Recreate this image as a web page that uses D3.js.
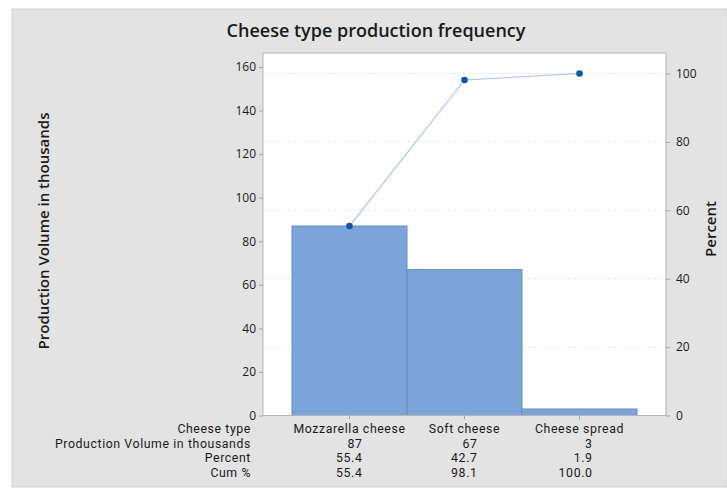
<!DOCTYPE html>
<html>
<head>
<meta charset="utf-8">
<script src="https://cdn.jsdelivr.net/npm/d3@7"></script>
<style>
  html, body { margin: 0; padding: 0; background: #ffffff; }
  svg { display: block; }
  text { font-family: "Open Sans", "Noto Sans", sans-serif; fill: #1a1a1a; }
</style>
</head>
<body>
<svg id="chart" width="727" height="489"></svg>
<script>
// ---- data ----
const categories = ["Mozzarella cheese", "Soft cheese", "Cheese spread"];
const volumes = [87, 67, 3];
const percents = [55.4, 42.7, 1.9];
const cumPercents = [55.4, 98.1, 100.0];
const leftTicks = [0, 20, 40, 60, 80, 100, 120, 140, 160];
const rightTicks = [0, 20, 40, 60, 80, 100];
const rowLabels = ["Cheese type", "Production Volume in thousands", "Percent", "Cum %"];
const title = "Cheese type production frequency";
const leftLabel = "Production Volume in thousands";
const rightLabel = "Percent";

// ---- layout ----
const W = 727, H = 489;
const plot = { left: 263, right: 666, top: 53, bottom: 415.5 };
const svg = d3.select("#chart");

// grey panel
svg.append("rect").attr("x", 12).attr("y", 9).attr("width", W - 12).attr("height", 478)
  .attr("fill", "#e3e3e3").attr("stroke", "#d2d2d2").attr("stroke-width", 1);

const total = d3.sum(volumes);
const leftMax = total * 1.06;

const x = d3.scaleBand().domain(categories).range([plot.left, plot.right])
  .paddingInner(0).paddingOuter(0.252);
const yL = d3.scaleLinear().domain([0, leftMax]).range([plot.bottom, plot.top]);
const yR = d3.scaleLinear().domain([0, leftMax / total * 100]).range([plot.bottom, plot.top]);

// plot area
svg.append("rect").attr("x", plot.left).attr("y", plot.top)
  .attr("width", plot.right - plot.left).attr("height", plot.bottom - plot.top)
  .attr("fill", "#ffffff");

// gridlines (right-axis)
svg.append("g").selectAll("line").data(rightTicks.filter(d => d > 0)).join("line")
  .attr("x1", plot.left).attr("x2", plot.right)
  .attr("y1", d => yR(d)).attr("y2", d => yR(d))
  .attr("stroke", "#e6e6e6").attr("stroke-width", 1).attr("stroke-dasharray", "3,2");

// bars
svg.append("g").selectAll("rect").data(categories).join("rect")
  .attr("x", d => x(d)).attr("width", x.bandwidth())
  .attr("y", (d, i) => yL(volumes[i]))
  .attr("height", (d, i) => plot.bottom - yL(volumes[i]))
  .attr("fill", "#7ba5d8").attr("stroke", "#6a8dbb").attr("stroke-width", 1);

// cumulative line
const cx = d => x(d) + x.bandwidth() / 2;
const line = d3.line().x((d, i) => cx(categories[i])).y(d => yR(d));
svg.append("path").datum(cumPercents).attr("d", line)
  .attr("fill", "none").attr("stroke", "#a3c2e8").attr("stroke-width", 1.1);
svg.append("g").selectAll("circle").data(cumPercents).join("circle")
  .attr("cx", (d, i) => cx(categories[i])).attr("cy", d => yR(d)).attr("r", 3.3)
  .attr("fill", "#0a56a8");

// plot border
svg.append("rect").attr("x", plot.left).attr("y", plot.top)
  .attr("width", plot.right - plot.left).attr("height", plot.bottom - plot.top)
  .attr("fill", "none").attr("stroke", "#b5b5b5").attr("stroke-width", 1);

// axes
const axL = d3.axisLeft(yL).tickValues(leftTicks).tickSize(4).tickPadding(3).tickSizeOuter(0);
const gL = svg.append("g").attr("transform", `translate(${plot.left},0)`).call(axL);
const axR = d3.axisRight(yR).tickValues(rightTicks).tickSize(4).tickPadding(6).tickSizeOuter(0);
const gR = svg.append("g").attr("transform", `translate(${plot.right},0)`).call(axR);
const axB = d3.axisBottom(x).tickSize(4).tickSizeOuter(0).tickFormat("");
const gB = svg.append("g").attr("transform", `translate(0,${plot.bottom})`).call(axB);
[gL, gR, gB].forEach(g => {
  g.select(".domain").remove();
  g.selectAll(".tick line").attr("stroke", "#a8a8a8");
  g.selectAll(".tick text").attr("font-size", 12).attr("fill", "#1a1a1a")
    .style("font-family", "'Open Sans', 'Noto Sans', sans-serif");
});

// title
svg.append("text").attr("x", 376).attr("y", 37).attr("text-anchor", "middle")
  .attr("font-size", 18).attr("font-weight", 600).text(title);

// axis titles
svg.append("text").attr("transform", "translate(49,231) rotate(-90)")
  .attr("text-anchor", "middle").attr("font-size", 15).attr("font-weight", 600).text(leftLabel);
svg.append("text").attr("transform", "translate(716,229) rotate(-90)")
  .attr("text-anchor", "middle").attr("font-size", 15).attr("font-weight", 600).text(rightLabel);

// table
const rowY = [433, 447.5, 462, 476.5];
const tbl = svg.append("g").attr("font-size", 12.3);
const tstyle = s => s.style("font-family", "Roboto, sans-serif").attr("letter-spacing", 0.6);
tbl.selectAll("text.rl").data(rowLabels).join("text").attr("class", "rl").call(tstyle)
  .attr("x", 251).attr("y", (d, i) => rowY[i]).attr("text-anchor", "end").text(d => d);
tbl.selectAll("text.cat").data(categories).join("text").attr("class", "cat").call(tstyle)
  .attr("x", d => cx(d)).attr("y", rowY[0]).attr("text-anchor", "middle").text(d => d);
const rows = [volumes.map(v => String(v)), percents.map(v => v.toFixed(1)), cumPercents.map(v => v.toFixed(1))];
rows.forEach((r, ri) => {
  tbl.selectAll(null).data(r).join("text").call(tstyle)
    .attr("x", (d, i) => cx(categories[i]) + 13).attr("y", rowY[ri + 1])
    .attr("text-anchor", "end").text(d => d);
});
</script>
</body>
</html>
